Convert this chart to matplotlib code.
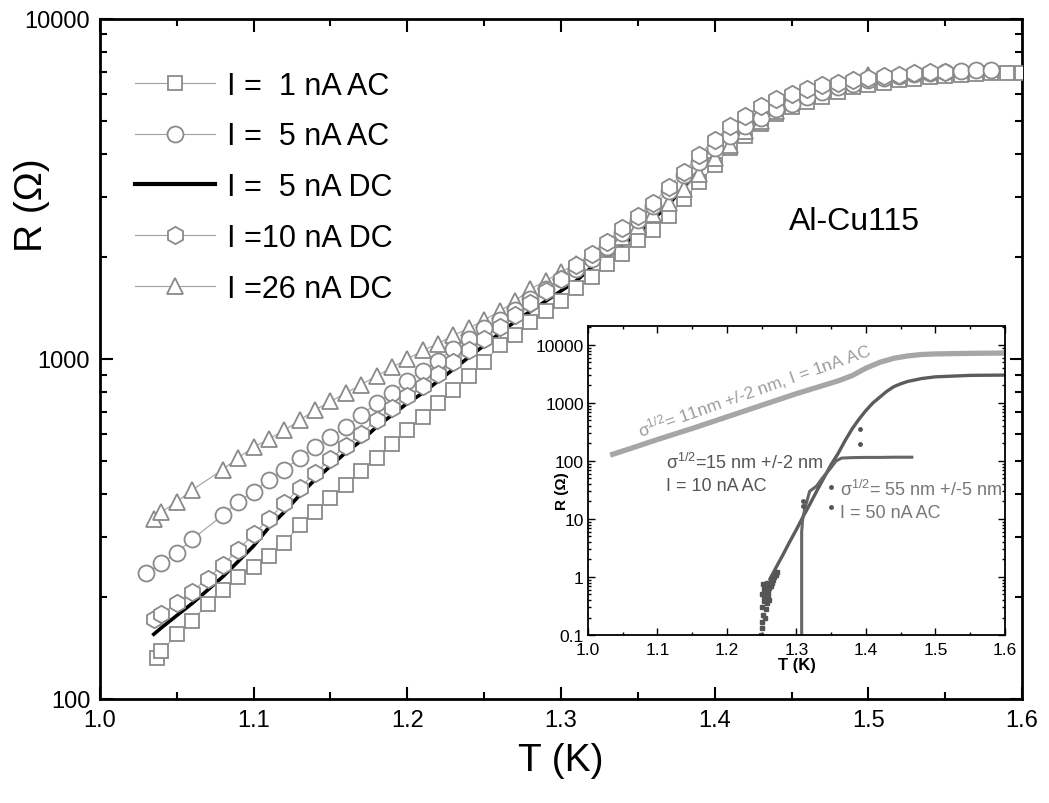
import matplotlib
matplotlib.use("Agg")
import matplotlib.pyplot as plt
from matplotlib.ticker import FixedLocator, LogLocator, NullFormatter

plt.rcParams["font.family"] = ["Liberation Sans", "DejaVu Sans"]
plt.rcParams["mathtext.fontset"] = "custom"
plt.rcParams["mathtext.rm"] = "Liberation Sans"
plt.rcParams["mathtext.it"] = "Liberation Sans:italic"
plt.rcParams["mathtext.bf"] = "Liberation Sans:bold"

# ---- main panel data (T in K, R in Ohm) ----
t_sq = [1.037, 1.04, 1.05, 1.06, 1.07, 1.08, 1.09, 1.10, 1.11, 1.12, 1.13, 1.14, 1.15,
        1.16, 1.17, 1.18, 1.19, 1.20, 1.21, 1.22, 1.23, 1.24, 1.25, 1.26, 1.27, 1.28,
        1.29, 1.30, 1.31, 1.32, 1.33, 1.34, 1.35, 1.36, 1.37, 1.38, 1.39, 1.40, 1.41,
        1.42, 1.43, 1.44, 1.45, 1.46, 1.47, 1.48, 1.49, 1.50, 1.51, 1.52, 1.53, 1.54,
        1.55, 1.56, 1.57, 1.58, 1.59, 1.60]
r_sq = [132, 138, 155, 170, 190, 209, 229, 245, 263, 288, 324, 355, 389,
        427, 468, 513, 562, 617, 676, 741, 813, 891, 977, 1096, 1175, 1288,
        1380, 1479, 1622, 1738, 1905, 2042, 2239, 2399, 2630, 2951, 3311, 3715, 4169,
        4520, 4900, 5250, 5500, 5690, 5890, 6100, 6310, 6380, 6460, 6600, 6680, 6760,
        6800, 6850, 6890, 6920, 6930, 6950]

t_ci = [1.03, 1.04, 1.05, 1.06, 1.08, 1.09, 1.10, 1.11, 1.12, 1.13, 1.14, 1.15, 1.16,
        1.17, 1.18, 1.19, 1.20, 1.21, 1.22, 1.23, 1.24, 1.25, 1.26, 1.27, 1.28, 1.29,
        1.30, 1.31, 1.32, 1.33, 1.34, 1.35, 1.36, 1.37, 1.38, 1.39, 1.40, 1.41, 1.42,
        1.43, 1.44, 1.45, 1.46, 1.47, 1.48, 1.49, 1.50, 1.51, 1.52, 1.53, 1.54, 1.55,
        1.56, 1.57, 1.58]
r_ci = [234, 251, 269, 295, 347, 380, 407, 442, 473, 513, 550, 589, 631,
        684, 741, 794, 861, 923, 989, 1072, 1148, 1230, 1303, 1396, 1496, 1603,
        1718, 1841, 1972, 2138, 2344, 2570, 2818, 3126, 3467, 3802, 4169, 4519, 4842,
        5129, 5433, 5623, 5888, 6095, 6310, 6457, 6607, 6714, 6808, 6887, 6950, 6998,
        7031, 7063, 7079]

t_dc5 = [1.035, 1.04, 1.05, 1.06, 1.07, 1.08, 1.09, 1.10, 1.11, 1.12, 1.13, 1.14, 1.15,
         1.16, 1.17, 1.18, 1.19, 1.20, 1.21, 1.22, 1.23, 1.24, 1.25, 1.26, 1.27, 1.28,
         1.29, 1.30, 1.31, 1.32, 1.33, 1.34, 1.35, 1.36, 1.37, 1.38, 1.39, 1.40, 1.41,
         1.42, 1.43, 1.44, 1.45]
r_dc5 = [155, 162, 176, 191, 209, 229, 254, 282, 320, 355, 398, 442, 484,
         531, 575, 631, 684, 741, 794, 861, 933, 1012, 1096, 1189, 1288, 1380,
         1479, 1585, 1698, 1862, 1995, 2163, 2344, 2570, 2851, 3199, 3589, 3981, 4416,
         4786, 5129, 5495, 5754]

t_hx = [1.035, 1.04, 1.05, 1.06, 1.07, 1.08, 1.09, 1.10, 1.11, 1.12, 1.13, 1.14, 1.15,
        1.16, 1.17, 1.18, 1.19, 1.20, 1.21, 1.22, 1.23, 1.24, 1.25, 1.26, 1.27, 1.28,
        1.29, 1.30, 1.31, 1.32, 1.33, 1.34, 1.35, 1.36, 1.37, 1.38, 1.39, 1.40, 1.41,
        1.42, 1.43, 1.44, 1.45, 1.46, 1.47, 1.48, 1.49, 1.50, 1.51, 1.52, 1.53, 1.54,
        1.55]
r_hx = [172, 178, 191, 207, 226, 248, 275, 305, 339, 376, 417, 462, 507,
        556, 603, 661, 716, 776, 832, 902, 977, 1059, 1148, 1245, 1349, 1462,
        1585, 1718, 1884, 2042, 2213, 2427, 2630, 2884, 3199, 3548, 3981, 4416, 4842,
        5188, 5559, 5821, 6026, 6237, 6383, 6486, 6607, 6699, 6792, 6855, 6918, 6966,
        6998]

t_tr = [1.035, 1.04, 1.05, 1.06, 1.08, 1.09, 1.10, 1.11, 1.12, 1.13, 1.14, 1.15, 1.16,
        1.17, 1.18, 1.19, 1.20, 1.21, 1.22, 1.23, 1.24, 1.25, 1.26, 1.27, 1.28, 1.29,
        1.30, 1.31, 1.32, 1.33, 1.34, 1.35, 1.36, 1.37, 1.38, 1.39, 1.40, 1.41, 1.42,
        1.43, 1.44, 1.45, 1.46, 1.47, 1.48, 1.49, 1.50]
r_tr = [339, 355, 380, 412, 473, 513, 550, 582, 617, 661, 708, 750, 794,
        841, 891, 944, 1000, 1059, 1109, 1175, 1230, 1303, 1380, 1479, 1603, 1698,
        1799, 1905, 2018, 2138, 2291, 2455, 2661, 2884, 3162, 3508, 3890, 4266, 4677,
        5012, 5370, 5689, 5957, 6166, 6383, 6607, 6839]

labels = ["I =  1 nA AC", "I =  5 nA AC", "I =  5 nA DC", "I =10 nA DC", "I =26 nA DC"]

x_ticks = [1.0, 1.1, 1.2, 1.3, 1.4, 1.5, 1.6]
x_minor = [1.05, 1.15, 1.25, 1.35, 1.45, 1.55]
x_ticklabels = ["1.0", "1.1", "1.2", "1.3", "1.4", "1.5", "1.6"]

# ---- inset data ----
t_in11 = [1.032, 1.06, 1.10, 1.15, 1.20, 1.25, 1.30, 1.33, 1.36, 1.38, 1.40, 1.42,
          1.44, 1.46, 1.48, 1.50, 1.55, 1.60]
r_in11 = [126, 162, 234, 363, 575, 912, 1445, 1862, 2399, 2951, 3981, 5012,
          5888, 6457, 6839, 6998, 7161, 7244]

t_in15 = [1.3075, 1.3075, 1.3075, 1.3075, 1.309, 1.312, 1.319, 1.329, 1.338, 1.348,
          1.357, 1.365, 1.38, 1.40, 1.42, 1.44, 1.466]
r_in15 = [0.1, 0.5, 2.0, 6.0, 10, 15, 30, 37, 52, 72, 100, 112, 114, 115, 115, 116, 116]

t_in55 = [1.262, 1.27, 1.28, 1.29, 1.30, 1.31, 1.32, 1.33, 1.34, 1.35, 1.36, 1.37,
          1.38, 1.39, 1.40, 1.41, 1.42, 1.43, 1.44, 1.45, 1.46, 1.48, 1.50, 1.55, 1.60]
r_in55 = [0.93, 1.41, 2.34, 3.98, 6.6, 11.2, 18.6, 31.6, 52.5, 87, 135, 224,
          355, 525, 741, 1000, 1259, 1585, 1905, 2138, 2344, 2630, 2818, 2985, 3020]

t_noise = [1.249, 1.250, 1.251, 1.252, 1.250, 1.253, 1.251, 1.254, 1.252, 1.255,
           1.256, 1.253, 1.257, 1.258, 1.255, 1.259, 1.260, 1.257, 1.261, 1.262,
           1.259, 1.263, 1.264, 1.266, 1.268, 1.265, 1.270, 1.272]
r_noise = [0.10, 0.13, 0.17, 0.22, 0.30, 0.38, 0.50, 0.62, 0.75, 0.20,
           0.28, 0.45, 0.35, 0.55, 0.70, 0.48, 0.65, 0.80, 0.40, 0.75,
           0.58, 0.85, 0.70, 0.90, 1.0, 0.80, 1.10, 1.2]

t_dots = [1.31, 1.31, 1.391, 1.391, 1.349, 1.349]
r_dots = [20, 17, 355, 195, 35, 16]

# ---- figure ----
fig = plt.figure(figsize=(10.49, 8.04), dpi=100)
ax = fig.add_axes([0.0953, 0.1294, 0.879, 0.8458])

grey = "#8a8a8a"
mk = dict(mfc="white", mec=grey, mew=1.3, color="#a0a0a0", lw=0.8)

ax.plot(t_dc5, r_dc5, color="black", lw=2.6, zorder=2, label=labels[2])
ax.plot(t_sq, r_sq, marker="s", ms=10.5, zorder=3, label=labels[0], **mk)
ax.plot(t_tr, r_tr, marker="^", ms=11.5, zorder=3, label=labels[4], **mk)
ax.plot(t_ci, r_ci, marker="o", ms=11.5, zorder=4, label=labels[1], **mk)
ax.plot(t_hx, r_hx, marker="h", ms=12.5, zorder=5, label=labels[3], **mk)

ax.set_yscale("log")
ax.set_xlim(1.0, 1.6)
ax.set_ylim(100, 10000)
ax.xaxis.set_major_locator(FixedLocator(x_ticks))
ax.xaxis.set_minor_locator(FixedLocator(x_minor))
ax.set_xticklabels(x_ticklabels)
ax.yaxis.set_major_locator(FixedLocator([100, 1000, 10000]))
ax.yaxis.set_minor_locator(LogLocator(base=10, subs=range(2, 10)))
ax.yaxis.set_minor_formatter(NullFormatter())
ax.set_yticklabels(["100", "1000", "10000"])
ax.tick_params(which="both", direction="in", top=True, right=True, width=1.5,
               labelsize=17, colors="black")
ax.tick_params(which="major", length=9, pad=7)
ax.tick_params(which="minor", length=5)
for s in ax.spines.values():
    s.set_linewidth(2)

ax.set_xlabel("T (K)", fontsize=28, labelpad=8)
ax.set_ylabel("R (\u03a9)", fontsize=28)
ax.yaxis.set_label_coords(-0.054, 0.728)

handles, labs = ax.get_legend_handles_labels()
order = [labs.index(l) for l in labels]
leg = ax.legend([handles[i] for i in order], [labs[i] for i in order],
                loc="upper left", bbox_to_anchor=(0.025, 0.942), frameon=False,
                fontsize=22, handlelength=2.6, handletextpad=0.4, labelspacing=0.68,
                borderaxespad=0)
for lh in leg.get_lines():
    if lh.get_color() == "black":
        lh.set_linewidth(3)

ax.text(0.818, 0.703, "Al-Cu115", transform=ax.transAxes, fontsize=23,
        ha="center", va="center")

# ---- inset ----
ins = fig.add_axes([0.5605, 0.209, 0.3975, 0.384])
ins.plot(t_in11, r_in11, color="#a6a6a6", lw=3.8, solid_capstyle="butt")
ins.plot(t_in55, r_in55, color="#5c5c5c", lw=2.4)
ins.plot(t_in15, r_in15, color="#666666", lw=2.2)
ins.plot(t_noise, r_noise, ls="none", marker="s", ms=3.5, color="#555555")
ins.plot(t_dots, r_dots, ls="none", marker="o", ms=2.5, color="#555555")

ins.set_yscale("log")
ins.set_xlim(1.0, 1.6)
ins.set_ylim(0.1, 21000)
ins.xaxis.set_major_locator(FixedLocator(x_ticks))
ins.xaxis.set_minor_locator(FixedLocator(x_minor))
ins.set_xticklabels(x_ticklabels)
ins.yaxis.set_major_locator(FixedLocator([0.1, 1, 10, 100, 1000, 10000]))
ins.yaxis.set_minor_locator(LogLocator(base=10, subs=range(2, 10)))
ins.yaxis.set_minor_formatter(NullFormatter())
ins.set_yticklabels(["0.1", "1", "10", "100", "1000", "10000"])
ins.tick_params(which="both", direction="in", top=True, right=True, width=1,
                labelsize=12.5, pad=3)
ins.tick_params(axis="x", pad=5)
ins.tick_params(which="major", length=5)
ins.tick_params(which="minor", length=2.5)
for s in ins.spines.values():
    s.set_linewidth(1.3)
ins.set_xlabel("T (K)", fontsize=12, fontweight="bold", labelpad=0)
ins.set_ylabel("R (\u03a9)", fontsize=11, fontweight="bold")
ins.yaxis.set_label_coords(-0.045, 0.47)

ins.text(1.075, 260, "\u03c3$^{\\mathrm{1/2}}$= 11nm +/-2 nm, I = 1nA AC", color="#9c9c9c",
         fontsize=12.5, rotation=19.5, rotation_mode="anchor", ha="left", va="baseline")
ins.text(1.112, 96, "\u03c3$^{\\mathrm{1/2}}$=15 nm +/-2 nm", color="#555555",
         fontsize=13, ha="left", va="center")
ins.text(1.112, 37, "I = 10 nA AC", color="#555555", fontsize=13, ha="left", va="center")
ins.text(1.362, 33, "\u03c3$^{\\mathrm{1/2}}$= 55 nm +/-5 nm", color="#777777",
         fontsize=13, ha="left", va="center")
ins.text(1.362, 13, "I = 50 nA AC", color="#777777", fontsize=13, ha="left", va="center")

fig.savefig("out.png", dpi=100)
